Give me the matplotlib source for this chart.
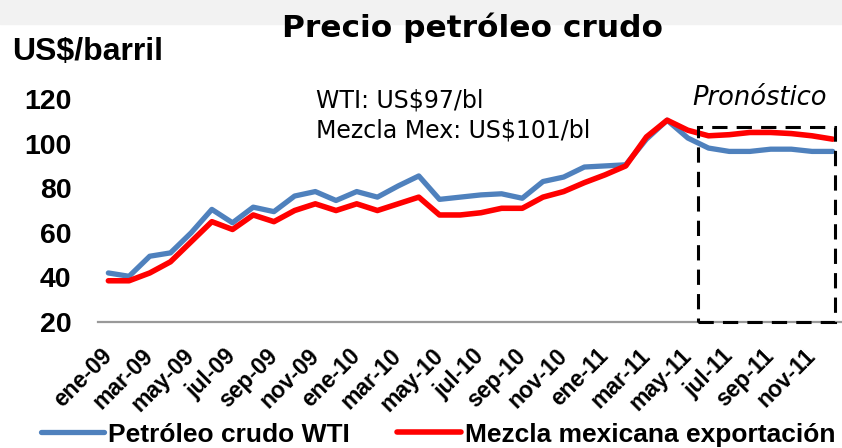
import numpy as np
import matplotlib.pyplot as plt
from matplotlib.patches import Rectangle

#? Datos (mensuales, ene-09 a dic-11)
meses = ["ene", "feb", "mar", "abr", "may", "jun", "jul", "ago", "sep", "oct", "nov", "dic"]
anios = ["09", "10", "11"]
etiquetas = [f"{m}-{a}" for a in anios for m in meses]

wti = [42, 40.5, 49.5, 51, 60, 70.5, 64.5, 71.5, 69.5, 76.5, 78.5, 74.5,
       78.5, 76, 81, 85.5, 75, 76, 77, 77.5, 75.5, 83, 85, 89.5,
       90, 90.5, 102, 110.5, 102.5, 98, 96.5, 96.5, 97.5, 97.5, 96.5, 96.5]
mezcla = [38.5, 38.5, 42, 47, 56, 65, 61.5, 68, 65, 70, 73, 70,
          73, 70, 73, 76, 68, 68, 69, 71, 71, 76, 78.5, 82.5,
          86, 90, 103, 110.5, 106, 103.5, 104, 105, 105, 104.5, 103.5, 102]

#! Ventana de pronóstico
pron_inicio = 28.5
pron_fin = 35.1
pron_tope = 107.6

x = np.arange(len(etiquetas))

fig = plt.figure(figsize=(8.42, 4.48), dpi=100)
fig.patches.append(Rectangle((0, 1 - 24 / 448), 1, 24 / 448, transform=fig.transFigure,
                             color="#f2f2f2", zorder=0))
ax = fig.add_axes([0.1164, 0.2812, 0.8824, 0.4978])

ax.plot(x, wti, color="#4f81bd", lw=3.8, label="Petróleo crudo WTI", solid_capstyle="round", zorder=3)
ax.plot(x, mezcla, color="#ff0000", lw=4.0, label="Mezcla mexicana exportación", solid_capstyle="round", zorder=4)

ax.add_patch(Rectangle((pron_inicio, 20), pron_fin - pron_inicio, pron_tope - 20, fill=False,
                       ec="black", lw=2.2, ls=(0, (5, 3)), zorder=5, clip_on=False))

ax.set_xlim(-0.5, 35.4)
ax.set_ylim(20, 120)
ax.set_yticks([20, 40, 60, 80, 100, 120])
ax.set_xticks(x[::2])
ax.set_xticklabels(etiquetas[::2], rotation=45, ha="right", va="center", rotation_mode="anchor",
                   fontsize=16.5, fontweight="bold", family="Liberation Sans")
for lab in ax.get_yticklabels():
    lab.set_fontsize(20.5)
    lab.set_fontweight("bold")
    lab.set_family("Liberation Sans")
ax.tick_params(axis="both", length=0)
ax.tick_params(axis="x", pad=22)
ax.tick_params(axis="y", pad=19)

for s in ["top", "right", "left"]:
    ax.spines[s].set_visible(False)
ax.spines["bottom"].set_color("#999999")
ax.spines["bottom"].set_linewidth(1.6)

#? Textos
fig.text(0.561, 0.937, "Precio petróleo crudo", ha="center", va="center",
         fontsize=22.5, fontweight="bold", family="DejaVu Sans")
fig.text(0.014, 0.885, "US$/barril", ha="left", va="center",
         fontsize=23, fontweight="bold", family="Liberation Sans")
ax.text(0.293, 0.995, "WTI: US$97/bl", transform=ax.transAxes, ha="left", va="center",
        fontsize=17, family="DejaVu Sans")
ax.text(0.293, 0.86, "Mezcla Mex: US$101/bl", transform=ax.transAxes, ha="left", va="center",
        fontsize=17, family="DejaVu Sans")
ax.text(31.45, 120.3, "Pronóstico", ha="center", va="center", fontsize=18.5, style="italic",
        family="DejaVu Sans")

fig.legend(loc="center", bbox_to_anchor=(0.52, 0.03), ncol=2, frameon=False,
           handlelength=2.4, handletextpad=0.15, columnspacing=1.8,
           prop={"family": "Liberation Sans", "weight": "bold", "size": 19})

fig.savefig("out.png", dpi=100)
